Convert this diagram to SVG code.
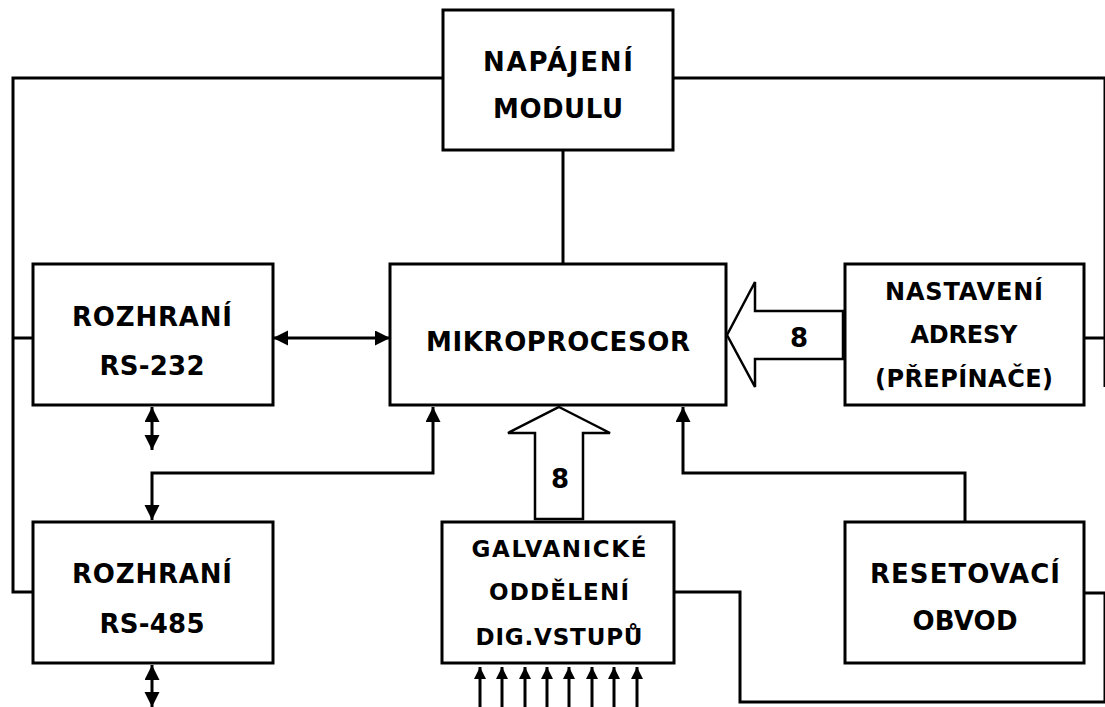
<svg xmlns="http://www.w3.org/2000/svg" width="1105" height="707" viewBox="0 0 1105 707">
<style>
.box{fill:#fff;stroke:#000;stroke-width:3}
.w{fill:none;stroke:#000;stroke-width:3}
.big{fill:#fff;stroke:#000;stroke-width:2.5;stroke-linejoin:miter}
.t{font-family:"DejaVu Sans",Verdana,sans-serif;font-weight:bold;fill:#000;text-anchor:middle}
.ar{marker-end:url(#ah)}
.ar2{marker-start:url(#ah);marker-end:url(#ah)}
.in{fill:none;stroke:#000;stroke-width:3;marker-end:url(#sh)}
</style>
<defs>
<marker id="ah" markerUnits="userSpaceOnUse" markerWidth="16" markerHeight="16" refX="15" refY="7.5" orient="auto-start-reverse" viewBox="0 0 16 16"><path d="M0,0 L15,7.5 L0,15 z" fill="#000"/></marker>
<marker id="sh" markerUnits="userSpaceOnUse" markerWidth="14" markerHeight="14" refX="12" refY="6" orient="auto" viewBox="0 0 14 14"><path d="M0,0 L12,6 L0,12 z" fill="#000"/></marker>
</defs>
<rect width="1105" height="707" fill="#fff"/>
<g id="connectors">
<path class="w" d="M443,78 H13 V592 H33 M13,338 H33"/>
<path class="w" d="M673,78 H1105 V387 M1084,338 H1105"/>
<path class="w" d="M1084,593 H1105 V702 H740 V592 H674"/>
<path class="w" d="M563,150 V264"/>
<path class="w ar2" d="M273,338 H390"/>
<path class="w ar2" d="M152,407 V450"/>
<path class="w ar2" d="M152,520 V473 H433 V407"/>
<path class="w ar" d="M965,522 V473 H683 V407"/>
<path class="w ar2" d="M152,665 V707"/>
<path class="in" d="M480,707 V667"/>
<path class="in" d="M502,707 V667"/>
<path class="in" d="M525,707 V667"/>
<path class="in" d="M547,707 V667"/>
<path class="in" d="M569,707 V667"/>
<path class="in" d="M592,707 V667"/>
<path class="in" d="M614,707 V667"/>
<path class="in" d="M637,707 V667"/>
<polygon class="big" points="559,407 610,433 583,433 583,519 535,519 535,433 508,433"/>
<polygon class="big" points="727,335 755,282 755,311 843,311 843,359 755,359 755,387"/>
<text class="t" x="560" y="488" font-size="26">8</text>
<text class="t" x="799" y="347" font-size="26">8</text>
</g>
<g id="napajeni">
<rect class="box" x="443" y="10" width="230" height="140"/>
<text class="t" x="558" y="71" font-size="26" textLength="150" lengthAdjust="spacing">NAPÁJENÍ</text>
<text class="t" x="558" y="118" font-size="26" textLength="130" lengthAdjust="spacing">MODULU</text>
</g>
<g id="rs232">
<rect class="box" x="33" y="264" width="240" height="141"/>
<text class="t" x="152" y="326" font-size="26" textLength="160" lengthAdjust="spacing">ROZHRANÍ</text>
<text class="t" x="152" y="375" font-size="26" textLength="105" lengthAdjust="spacing">RS-232</text>
</g>
<g id="mikroprocesor">
<rect class="box" x="390" y="264" width="336" height="141"/>
<text class="t" x="558" y="351" font-size="26" textLength="264" lengthAdjust="spacing">MIKROPROCESOR</text>
</g>
<g id="nastaveni">
<rect class="box" x="845" y="264" width="239" height="141"/>
<text class="t" x="964" y="300" font-size="24" textLength="158" lengthAdjust="spacing">NASTAVENÍ</text>
<text class="t" x="964" y="343" font-size="24" textLength="107" lengthAdjust="spacing">ADRESY</text>
<text class="t" x="964" y="387" font-size="24" textLength="178" lengthAdjust="spacing">(PŘEPÍNAČE)</text>
</g>
<g id="rs485">
<rect class="box" x="33" y="522" width="240" height="141"/>
<text class="t" x="152" y="583" font-size="26" textLength="160" lengthAdjust="spacing">ROZHRANÍ</text>
<text class="t" x="152" y="633" font-size="26" textLength="105" lengthAdjust="spacing">RS-485</text>
</g>
<g id="galvanicke">
<rect class="box" x="442" y="522" width="232" height="141"/>
<text class="t" x="559" y="557" font-size="23" textLength="175" lengthAdjust="spacing">GALVANICKÉ</text>
<text class="t" x="559" y="600" font-size="23" textLength="140" lengthAdjust="spacing">ODDĚLENÍ</text>
<text class="t" x="559" y="645" font-size="23" textLength="167" lengthAdjust="spacing">DIG.VSTUPŮ</text>
</g>
<g id="resetovaci">
<rect class="box" x="845" y="522" width="239" height="141"/>
<text class="t" x="965" y="583" font-size="26" textLength="190" lengthAdjust="spacing">RESETOVACÍ</text>
<text class="t" x="965" y="630" font-size="26" textLength="105" lengthAdjust="spacing">OBVOD</text>
</g>
</svg>
